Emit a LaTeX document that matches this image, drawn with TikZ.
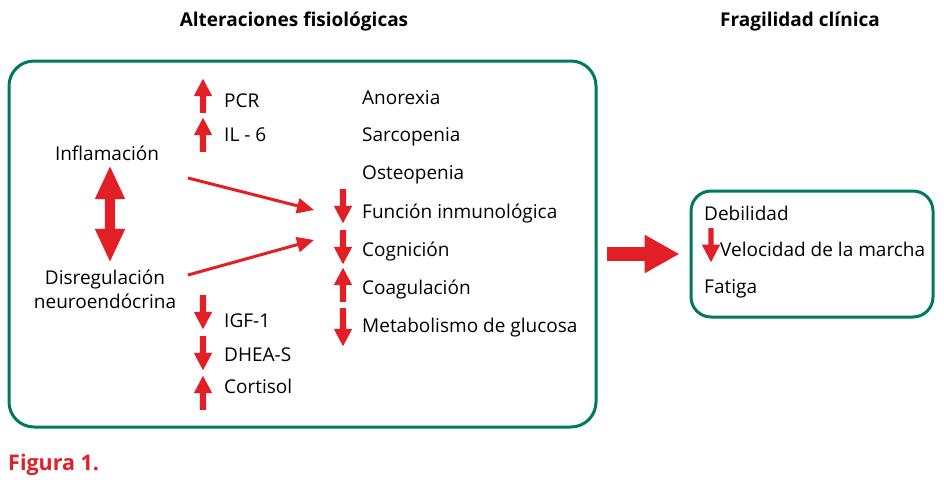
\documentclass[tikz,border=0pt]{standalone}
\usepackage{fontspec}
\setmainfont{Open Sans}
\usetikzlibrary{arrows.meta, shapes.arrows, positioning}

\definecolor{boxgreen}{RGB}{0,122,94}
\definecolor{arrred}{RGB}{226,30,38}

\tikzset{
  txt/.style={anchor=base west, inner sep=0pt, font=\fontsize{19}{22}\selectfont},
  ctxt/.style={anchor=base, inner sep=0pt, font=\fontsize{19}{22}\selectfont},
  ttl/.style={anchor=base, inner sep=0pt, font=\fontsize{19}{22}\selectfont\bfseries},
  greenbox/.style={draw=boxgreen, line width=3pt, rounded corners=25pt},
  uparr/.style={single arrow, fill=arrred, rotate=90, anchor=tail, inner sep=3pt,
    minimum height=34pt, single arrow head extend=6pt, single arrow tip angle=56},
  downarr/.style={uparr, rotate=180},
  thinarr/.style={draw=arrred, line width=3pt, -{Triangle[width=15pt,length=17pt]}},
  bigarr/.style={draw=arrred, line width=14pt, -{Triangle[width=36pt,length=35pt]}}
}

\begin{document}
\begin{tikzpicture}[x=1pt,y=-1pt]
\useasboundingbox (0,0) rectangle (944,479);
\node[ttl] (tAlter) at (294,27) {Alteraciones fisiológicas};
\node[ttl] (tFrag) at (800,27) {Fragilidad clínica};
% boxes
\node[greenbox, minimum width=587pt, minimum height=366pt] (alter) at (302.5,244) {};
\node[greenbox, rounded corners=20pt, minimum width=242pt, minimum height=126pt] (fragil) at (812,254) {};
% left column
\node[ctxt] (infl) at (107,160) {Inflamación};
\node[ctxt] (disr) at (105,284) {Disregulación};
\node[ctxt] (neuro) at (105,308) {neuroendócrina};
\node[double arrow, fill=arrred, rotate=90, inner sep=5pt, minimum height=95pt,
  double arrow head extend=10pt, double arrow tip angle=50] (dbl) at (110,214) {};
% markers
\node[uparr] (aPCR) at (203,113) {};
\node[txt] (PCR) at (224,107) {PCR};
\node[uparr] (aIL) at (203,152) {};
\node[txt] (IL) at (224,141) {IL - 6};
\node[downarr] (aIGF) at (203,295) {};
\node[txt] (IGF) at (224,327) {IGF-1};
\node[downarr] (aDHEA) at (203,336) {};
\node[txt] (DHEA) at (224,361) {DHEA-S};
\node[uparr] (aCort) at (203,410) {};
\node[txt] (Cort) at (224,393) {Cortisol};
% middle column
\node[txt] (anor) at (362,104) {Anorexia};
\node[txt] (sarc) at (362,141) {Sarcopenia};
\node[txt] (oste) at (362,179) {Osteopenia};
\node[txt] (func) at (362,218) {Función inmunológica};
\node[txt] (cogn) at (362,256) {Cognición};
\node[txt] (coag) at (362,294) {Coagulación};
\node[txt] (meta) at (362,332) {Metabolismo de glucosa};
\node[downarr] (aFunc) at (343,189) {};
\node[downarr] (aCogn) at (343,230) {};
\node[uparr] (aCoag) at (343,302) {};
\node[downarr, minimum height=38pt] (aMeta) at (343,308) {};
% right box
\node[txt] (debil) at (704,220) {Debilidad};
\node[txt] (veloc) at (720,256) {Velocidad de la marcha};
\node[txt] (fatig) at (704,293) {Fatiga};
\node[downarr, inner sep=2.5pt, single arrow head extend=6.5pt,
  single arrow tip angle=55] (aVeloc) at (711,228) {};
% connectors
\coordinate (inflEnd) at (188,178);
\coordinate (disrEnd) at (188,275);
\coordinate (funcIn) at (314,210);
\coordinate (cognIn) at (314,240);
\draw[thinarr] (inflEnd) -- (funcIn);
\draw[thinarr] (disrEnd) -- (cognIn);
\draw[bigarr, shorten <=9pt, shorten >=10pt] (alter.east |- fragil.west) -- (fragil.west);
\node[anchor=base west, inner sep=0pt, text=arrred, font=\fontsize{21.5}{25}\selectfont\bfseries] (fig) at (8,470) {Figura 1.};
\end{tikzpicture}
\end{document}
